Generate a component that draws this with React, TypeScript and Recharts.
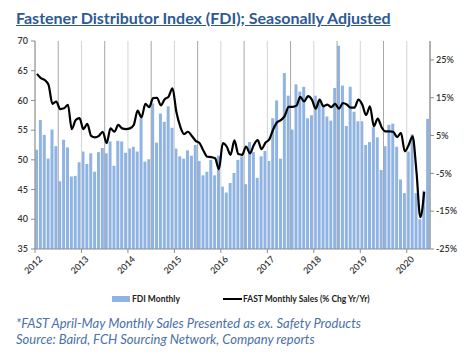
import React from "react";
import {
  Bar,
  ComposedChart,
  Line,
  ReferenceLine,
  XAxis,
  YAxis,
} from "recharts";

// monthly, Jan 2012 .. Jun 2020
const fdiMonthly = [
  51.7, 56.7, 54.2, 50.2, 55.1, 52.3, 46.4, 53.4, 52.1, 47.2, 47.3, 49.6,
  51.4, 49.3, 51.1, 48.0, 51.3, 52.0, 51.1, 53.1, 49.0, 53.2, 53.1, 51.2,
  51.9, 52.2, 51.4, 57.0, 49.7, 50.1, 59.5, 52.9, 57.8, 56.4, 59.0, 55.4,
  51.9, 50.6, 50.2, 51.6, 50.7, 52.5, 49.8, 47.4, 48.0, 50.0, 47.4, 50.7,
  45.5, 44.5, 46.1, 47.8, 50.0, 50.6, 45.9, 53.0, 51.3, 47.0, 50.6, 51.5,
  49.8, 57.0, 60.0, 50.2, 64.6, 60.8, 55.1, 62.7, 61.5, 62.3, 57.0, 57.5,
  60.8, 60.0, 59.3, 57.3, 56.6, 62.1, 69.2, 62.5, 55.7, 62.3, 58.1, 56.5,
  56.5, 52.5, 53.0, 55.5, 53.8, 48.3, 52.3, 55.9, 56.1, 52.2, 46.7, 44.4,
  51.4, 54.3, 44.4, 40.0, 44.8, 56.9,
];

// FAST monthly sales, % chg yr/yr (ends May 2020)
const fastSales = [
  21.3, 20.2, 19.7, 18.4, 13.4, 14.0, 12.0, 12.2, 13.1, 6.7, 9.1, 9.6,
  6.7, 8.1, 4.9, 4.5, 4.9, 6.0, 3.0, 6.9, 6.0, 7.8, 6.9, 6.7,
  6.9, 7.8, 11.6, 9.8, 13.4, 12.5, 14.9, 15.0, 13.0, 14.6, 15.3, 17.5,
  11.3, 7.4, 5.4, 6.0, 4.9, 3.6, 3.0, 1.0, -0.6, -0.7, -1.0, -3.9,
  3.0, 2.1, -0.1, 3.7, 0.1, -0.1, 2.1, 0.3, 2.5, 3.8, 1.4, 3.1,
  4.0, 6.6, 8.5, 9.1, 10.2, 12.6, 12.6, 12.9, 15.2, 14.0, 15.4, 14.5,
  12.1, 14.5, 12.7, 13.2, 12.5, 13.4, 12.1, 13.6, 13.2, 12.4, 12.4, 14.5,
  13.2, 10.4, 12.7, 7.5, 9.5, 7.2, 6.1, 6.1, 6.0, 4.6, 5.7, 0.8,
  2.5, 4.8, -4.5, -16.6, -9.9,
];

const years = ["2012", "2013", "2014", "2015", "2016", "2017", "2018", "2019", "2020"];
const leftTicks = [35, 40, 45, 50, 55, 60, 65, 70];
const rightTicks = [-25, -15, -5, 5, 15, 25];

const data = fdiMonthly.map((v, i) => ({
  x: i + 0.5,
  fdi: v,
  fast: i < fastSales.length ? fastSales[i] : null,
}));

const yearTicks = years.map((_, i) => i * 12);
const font = "Lato, 'Open Sans', sans-serif";
const axisColor = "#8c8c8c";

const YearTick = (props: any) => {
  const { x, y, payload } = props;
  return (
    <g transform={`translate(${x + 5},${y + 2})`}>
      <text
        x={0}
        y={0}
        dy={4}
        textAnchor="end"
        transform="rotate(-45)"
        fontSize={9}
        fontFamily={font}
        fontWeight={600}
        fill="#333"
      >
        {years[payload.value / 12]}
      </text>
    </g>
  );
};

export default function App() {
  return (
    <div
      style={{
        position: "absolute",
        left: 0,
        top: 0,
        width: 466,
        height: 356,
        background: "#fff",
        fontFamily: font,
      }}
    >
      <div
        style={{
          position: "absolute",
          left: 16,
          top: 8,
          fontSize: 16,
          fontWeight: 700,
          color: "#2d5a95",
          textDecoration: "underline",
          whiteSpace: "nowrap",
        }}
      >
        Fastener Distributor Index (FDI); Seasonally Adjusted
      </div>
      <div style={{ position: "absolute", left: 0, top: 0 }}>
        <ComposedChart
          width={466}
          height={300}
          data={data}
          margin={{ top: 41, right: 0, bottom: 11, left: 0 }}
          barGap={0}
        >
          {years.map((_, i) => (
            <ReferenceLine
              key={`a${i}`}
              x={i * 12}
              yAxisId="left"
              stroke="#d4d4d4"
              strokeWidth={1}
            />
          ))}
          {years.map((_, i) => (
            <ReferenceLine
              key={`b${i}`}
              x={i * 12 + 6}
              yAxisId="left"
              stroke="#a6a6a6"
              strokeWidth={1}
            />
          ))}
          <XAxis
            dataKey="x"
            type="number"
            domain={[0, 102]}
            ticks={yearTicks}
            interval={0}
            tick={<YearTick />}
            tickSize={4}
            stroke={axisColor}
            height={40}
            allowDataOverflow
          />
          <YAxis
            yAxisId="left"
            domain={[35, 70]}
            ticks={leftTicks}
            interval={0}
            width={35}
            tickSize={4}
            tickMargin={3}
            stroke={axisColor}
            tick={{ fontSize: 9, fill: "#333", fontFamily: font, fontWeight: 600 }}
            allowDataOverflow
          />
          <YAxis
            yAxisId="right"
            orientation="right"
            domain={[-25, 30]}
            ticks={rightTicks}
            interval={0}
            width={36}
            tickSize={4}
            tickMargin={2}
            stroke={axisColor}
            tickFormatter={(v) => `${v}%`}
            tick={{ fontSize: 9, fill: "#333", fontFamily: font, fontWeight: 600, textAnchor: "start" }}
            allowDataOverflow
          />
          <Bar
            yAxisId="left"
            dataKey="fdi"
            fill="#8fb4e3"
            barSize={3}
            isAnimationActive={false}
          />
          <Line
            yAxisId="right"
            dataKey="fast"
            type="monotone"
            stroke="#000"
            strokeWidth={2.2}
            dot={false}
            activeDot={false}
            isAnimationActive={false}
          />
        </ComposedChart>
      </div>
      <div
        style={{
          position: "absolute",
          left: 112,
          top: 294,
          display: "flex",
          alignItems: "center",
          fontSize: 8.5,
          fontWeight: 700,
          color: "#222",
          whiteSpace: "nowrap",
        }}
      >
        <span style={{ width: 18, height: 6, background: "#8fb4e3", marginRight: 2 }} />
        <span>FDI Monthly</span>
        <span style={{ width: 19, height: 2, background: "#000", marginLeft: 43, marginRight: 1 }} />
        <span>FAST Monthly Sales (% Chg Yr/Yr)</span>
      </div>
      <div
        style={{
          position: "absolute",
          left: 16,
          top: 315,
          fontSize: 13,
          fontStyle: "italic",
          color: "#4a70aa",
          lineHeight: "16px",
          whiteSpace: "nowrap",
        }}
      >
        <div>*FAST April-May Monthly Sales Presented as ex. Safety Products</div>
        <div>Source: Baird, FCH Sourcing Network, Company reports</div>
      </div>
    </div>
  );
}
